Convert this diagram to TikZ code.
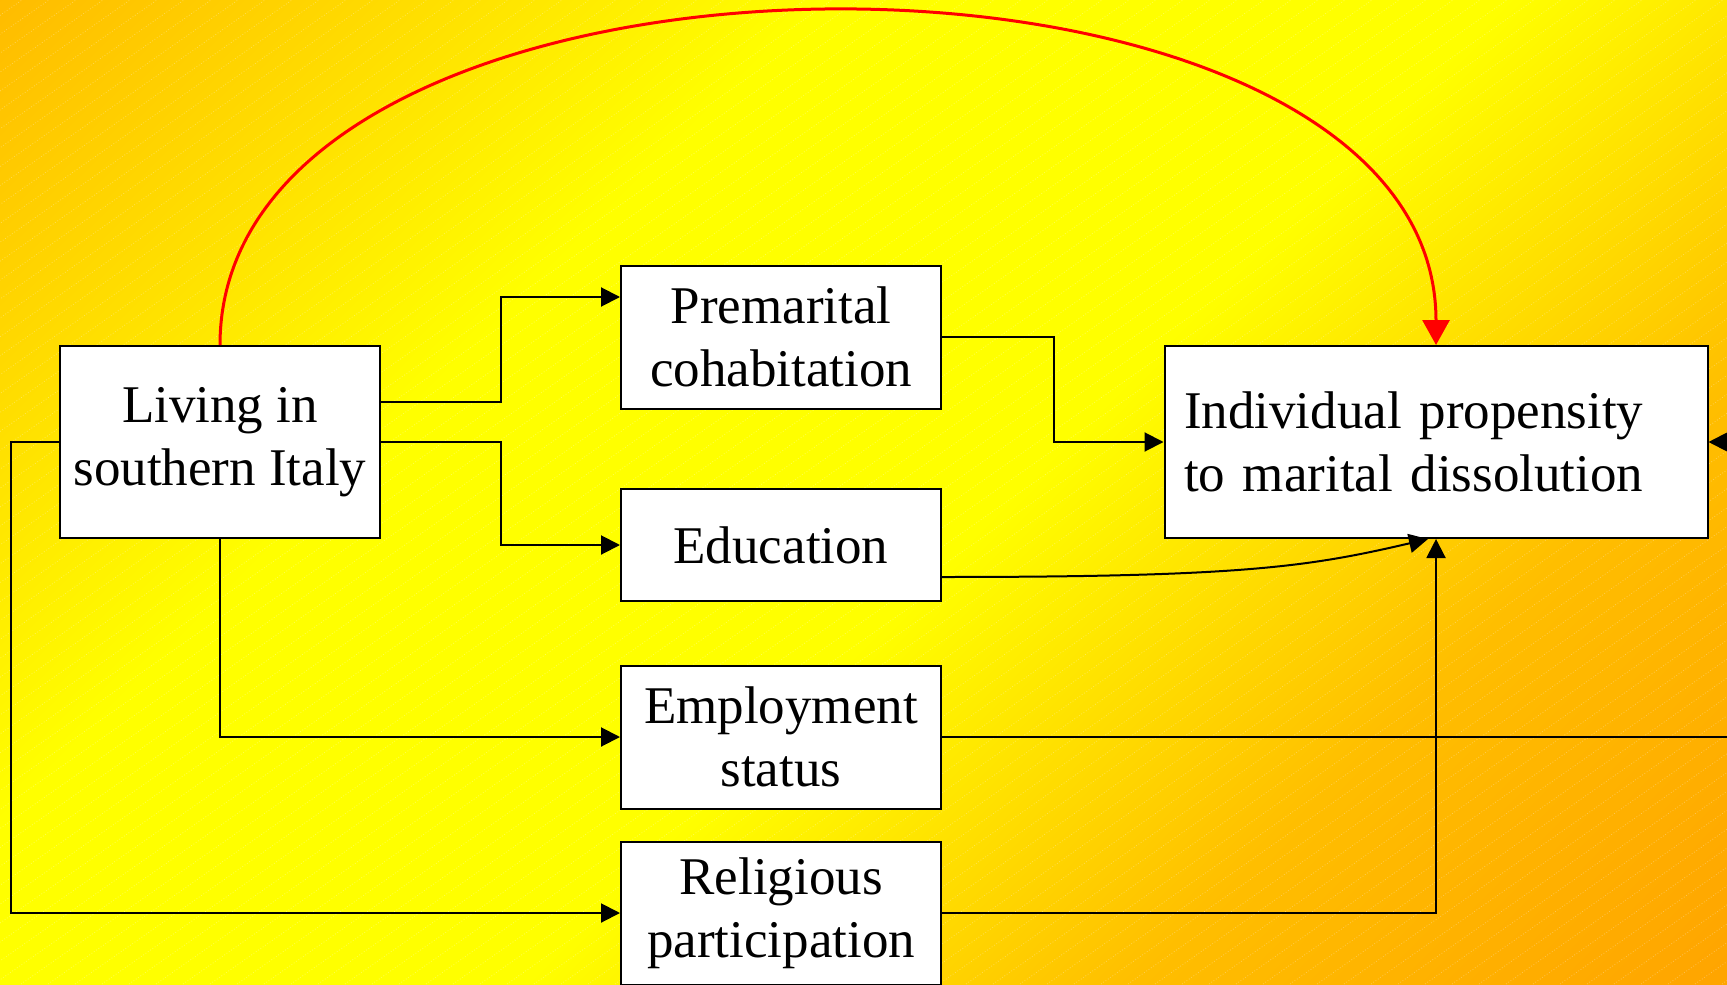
\documentclass[tikz,border=0pt]{standalone}
\usepackage{fontspec}
\setmainfont{Liberation Serif}
\usetikzlibrary{arrows.meta,positioning}
\definecolor{bgorange}{RGB}{255,165,0}
\definecolor{bgmid}{RGB}{255,190,0}
\definecolor{bgcorner}{RGB}{255,186,0}
\definecolor{bgyellow}{RGB}{255,255,0}
\definecolor{linkred}{RGB}{255,0,0}
\pgfdeclareverticalshading{slide}{100bp}{%
  color(0bp)=(bgorange); color(15bp)=(bgorange); color(30bp)=(bgmid);
  color(46bp)=(bgyellow); color(64bp)=(bgyellow); color(86bp)=(bgcorner);
  color(100bp)=(bgcorner)}

\begin{document}
\begin{tikzpicture}[%
    x=0.5pt, y=-0.5pt,            % one unit per pixel, counted from the top
    >={Triangle[length=9.5pt,width=9.5pt]},
    font=\fontsize{26.5}{31.5}\selectfont,
    ]
\tikzset{
  box/.style={draw, fill=white, line width=1pt, align=center,
              minimum width=160pt, inner sep=0pt},
  tall/.style={box, minimum height=71.5pt},
  norm/.style={->, line width=1pt},
  redlink/.style={draw=linkred, line width=1.5pt,
                  -{Triangle[length=12.5pt,width=13.5pt]}},
  hatch/.style={white, opacity=0.3, line width=0.4pt, densely dotted},
}

% background of the slide
\useasboundingbox (0,0) rectangle (1727,984);
\clip (0,0) rectangle (1727,984);
\shade[shading=slide, shading angle=45] (0,0) rectangle (1727,984);
\foreach \c in {-1410,-1383,...,1727}
  \draw[hatch] (\c,984) -- ++(1405,-984);

\node [box, minimum height=96pt] (south) at (220,442) {Living in\\southern Italy};
\node [tall] (cohab) at (781,337) {Premarital\\cohabitation};
\node [box, minimum height=56pt] (educ) at (781,545) {Education};
\node [tall] (empl) at (781,737) {Employment\\status};
\node [tall] (relig) at (781,913) {Religious\\participation};
\node [box, minimum width=271.5pt, minimum height=96pt, align=left,
       text width=252pt] (diss) at (1436,442) {Individual propensity\\to marital dissolution};

\draw [norm] ([yshift=20pt]south.east) -- ++(60pt,0) |- ([yshift=20pt]cohab.west);
\draw [norm] (south.east) -- ++(60pt,0) |- (educ.west);
\draw [norm] (south.south) |- (empl.west);
\draw [norm] (south.west) -- ++(-24pt,0) |- (relig.west);
\draw [norm] (cohab.east) -- ++(56pt,0) |- (diss.west);
\draw [norm] ([yshift=-16pt]educ.east) .. controls +(150pt,0pt) and +(-60pt,-14pt)
  .. ([xshift=-4pt]diss.south);
\draw [norm] (relig.east) -| (diss.south);
\draw [norm] (empl.east) -| ([xshift=30pt]diss.east) -- (diss.east);
\draw [redlink] (south.north) .. controls ([yshift=222pt]south.north)
  and ([yshift=222pt]diss.north) .. (diss.north);

\end{tikzpicture}
\end{document}
